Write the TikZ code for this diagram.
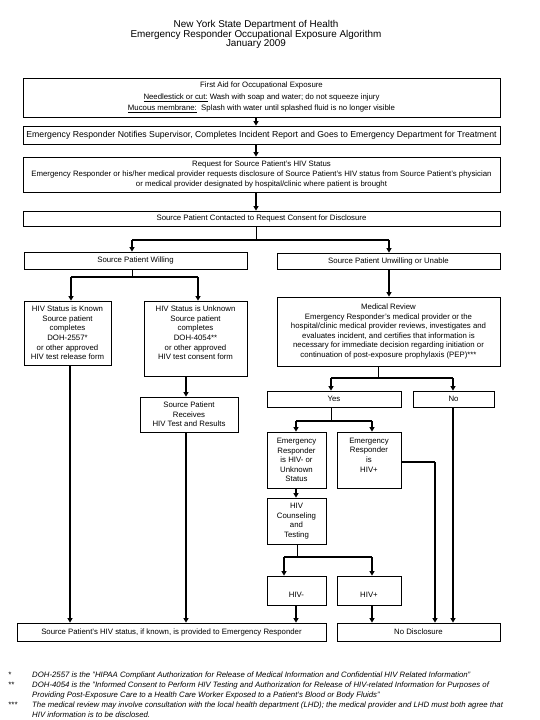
\documentclass[tikz,border=0pt]{standalone}
\usepackage{fontspec}
\setmainfont{Liberation Sans}
\usetikzlibrary{arrows.meta}
\newcommand{\myftitle}{\fontsize{9.9}{10.5}\selectfont}
\newcommand{\myfnotify}{\fontsize{8.7}{10}\selectfont}
\newcommand{\myfbody}{\fontsize{7.8}{9.6}\selectfont}
\newcommand{\myffirst}{\fontsize{7.8}{11.5}\selectfont}
\newcommand{\myfnote}{\fontsize{7.8}{9.5}\selectfont\itshape}
\begin{document}
\begin{tikzpicture}[x=1pt,y=-1pt,
  box/.style={draw, line width=0.8pt, inner sep=0pt, align=center, font=\myfbody},
  txt/.style={inner sep=0pt, align=center, font=\myfbody},
  titlef/.style={inner sep=0pt, align=center, font=\myftitle},
  note/.style={inner sep=0pt, align=left, anchor=north west, font=\myfnote},
  arr/.style={-{Triangle[width=5pt,length=4.5pt]}, line width=1.6pt},
  thickline/.style={line width=1.6pt},
  thinline/.style={line width=0.8pt}
]
\useasboundingbox (0,0) rectangle (540,720);
\fill[white] (0,0) rectangle (540,720);

% title
\node[titlef] (t1) at (256,24.5) {New York State Department of Health};
\node[titlef] (t2) at (256,34.5) {Emergency Responder Occupational Exposure Algorithm};
\node[titlef] (t3) at (256,44.5) {January 2009};

% boxes
\node[box, font=\myffirst, minimum width=477, minimum height=39] (firstaid) at (261.5,97.5)
  {First Aid for Occupational Exposure\\
   \underline{Needlestick or cut:} Wash with soap and water; do not squeeze injury\\
   \underline{Mucous membrane:}\ \ Splash with water until splashed fluid is no longer visible};
\node[box, font=\myfnotify, minimum width=477, minimum height=18] (notify) at (261.5,135)
  {Emergency Responder Notifies Supervisor, Completes Incident Report and Goes to Emergency Department for Treatment};
\node[box, minimum width=477, minimum height=35] (request) at (261.5,174.5)
  {Request for Source Patient's HIV Status\\
   Emergency Responder or his/her medical provider requests disclosure of Source Patient's HIV status from Source Patient's physician\\
   or medical provider designated by hospital/clinic where patient is brought};
\node[box, minimum width=477, minimum height=15] (contacted) at (261.5,218.5)
  {Source Patient Contacted to Request Consent for Disclosure};
\node[box, minimum width=223, minimum height=17] (willing) at (135.5,260.5) {Source Patient Willing};
\node[box, minimum width=223, minimum height=16] (unwilling) at (388.5,261) {Source Patient Unwilling or Unable};
\node[box, minimum width=87, minimum height=64] (known) at (67.5,333)
  {HIV Status is Known\\ Source patient\\ completes\\ DOH-2557*\\ or other approved\\ HIV test release form};
\node[box, minimum width=103, minimum height=75] (unknown) at (195.5,338.5) {};
\node[txt] (unknownt) at (195.5,333)
  {HIV Status is Unknown\\ Source patient\\ completes\\ DOH-4054**\\ or other approved\\ HIV test consent form};
\node[box, minimum width=223, minimum height=69] (medreview) at (388.5,331.5)
  {Medical Review\\
   Emergency Responder's medical provider or the\\
   hospital/clinic medical provider reviews, investigates and\\
   evaluates incident, and certifies that information is\\
   necessary for immediate decision regarding initiation or\\
   continuation of post-exposure prophylaxis (PEP)***};
\node[box, minimum width=98, minimum height=35] (receives) at (189,414.5)
  {Source Patient\\ Receives\\ HIV Test and Results};
\node[box, minimum width=134, minimum height=16] (yes) at (334,399) {Yes};
\node[box, minimum width=81, minimum height=16] (no) at (453.5,399) {No};
\node[box, minimum width=59, minimum height=56] (erneg) at (296.5,460)
  {Emergency\\ Responder\\ is HIV- or\\ Unknown\\ Status};
\node[box, minimum width=64, minimum height=56] (erpos) at (369,460) {};
\node[txt] (erpost) at (369,455) {Emergency\\ Responder\\ is\\ HIV+};
\node[box, minimum width=59, minimum height=46] (counsel) at (296.5,521)
  {HIV\\ Counseling\\ and\\ Testing};
\node[box, minimum width=59, minimum height=29] (hivneg) at (296.5,590.5) {};
\node[txt] (hivnegt) at (296.5,595) {HIV-};
\node[box, minimum width=64, minimum height=29] (hivpos) at (369,590.5) {};
\node[txt] (hivpost) at (369,595) {HIV+};
\node[box, minimum width=309, minimum height=18] (provided) at (171.5,632)
  {Source Patient's HIV status, if known, is provided to Emergency Responder};
\node[box, minimum width=163, minimum height=18] (nodisc) at (418.5,632) {No Disclosure};

% column coordinates
\coordinate (c256) at (256,0);
\coordinate (s1) at (256,240);
\coordinate (s1l) at (132,240);
\coordinate (s1r) at (389,240);
\coordinate (s2) at (132,277);
\coordinate (s2l) at (71,277);
\coordinate (s2r) at (198,277);
\coordinate (s3) at (378,378);
\coordinate (s3l) at (331,378);
\coordinate (s3r) at (453,378);
\coordinate (s4) at (331,421);
\coordinate (s4l) at (296,421);
\coordinate (s4r) at (372,421);
\coordinate (s5) at (297,557);
\coordinate (s5l) at (284,557);
\coordinate (s5r) at (372,557);
\coordinate (c70) at (70,0);
\coordinate (c186) at (186,0);
\coordinate (c296) at (296,0);
\coordinate (c372) at (372,0);
\coordinate (c453) at (453,0);
\coordinate (c389) at (389,0);
\coordinate (k435) at (435,462);

% connectors
\draw[arr] (firstaid.south -| c256) -- (notify.north -| c256);
\draw[arr] (notify.south -| c256) -- (request.north -| c256);
\draw[arr] (request.south -| c256) -- (contacted.north -| c256);
\draw[thinline] (contacted.south -| c256) -- (s1);
\draw[thickline] (s1l) -- (s1r);
\draw[arr] (s1l) -- (willing.north -| s1l);
\draw[arr] (s1r) -- (unwilling.north -| s1r);
\draw[thinline] (willing.south -| s2) -- (s2);
\draw[thickline] (s2l) -- (s2r);
\draw[arr] (s2l) -- (known.north -| s2l);
\draw[arr] (s2r) -- (unknown.north -| s2r);
\draw[arr] (unwilling.south -| c389) -- (medreview.north -| c389);
\draw[thinline] (medreview.south -| s3) -- (s3);
\draw[thickline] (s3l) -- (s3r);
\draw[arr] (s3l) -- (yes.north -| s3l);
\draw[arr] (s3r) -- (no.north -| s3r);
\draw[arr] (known.south -| c70) -- (provided.north -| c70);
\draw[arr] (unknown.south -| c186) -- (receives.north -| c186);
\draw[arr] (receives.south -| c186) -- (provided.north -| c186);
\draw[thinline] (yes.south -| s4) -- (s4);
\draw[thickline] (s4l) -- (s4r);
\draw[arr] (s4l) -- (erneg.north -| s4l);
\draw[arr] (s4r) -- (erpos.north -| s4r);
\draw[arr] (erneg.south -| c296) -- (counsel.north -| c296);
\draw[thinline] (counsel.south -| s5) -- (s5);
\draw[thickline] (s5l) -- (s5r);
\draw[arr] (s5l) -- (hivneg.north -| s5l);
\draw[arr] (s5r) -- (hivpos.north -| s5r);
\draw[arr] (hivneg.south -| c296) -- (provided.north -| c296);
\draw[arr] (hivpos.south -| c372) -- (nodisc.north -| c372);
\draw[thickline] (erpos.east |- k435) -- (k435);
\draw[arr] (k435) -- (nodisc.north -| k435);
\draw[arr] (no.south -| c453) -- (nodisc.north -| c453);

% footnotes
\node[note] (m1) at (8,672) {*};
\node[note] (n1) at (32,672) {DOH-2557 is the "HIPAA Compliant Authorization for Release of Medical Information and Confidential HIV Related Information"};
\node[note] (m2) at (8,682) {**};
\node[note] (n2) at (32,682) {DOH-4054 is the "Informed Consent to Perform HIV Testing and Authorization for Release of HIV-related Information for Purposes of\\
Providing Post-Exposure Care to a Health Care Worker Exposed to a Patient's Blood or Body Fluids"};
\node[note] (m3) at (8,702) {***};
\node[note] (n3) at (32,702) {The medical review may involve consultation with the local health department (LHD); the medical provider and LHD must both agree that\\
HIV information is to be disclosed.};
\end{tikzpicture}
\end{document}
